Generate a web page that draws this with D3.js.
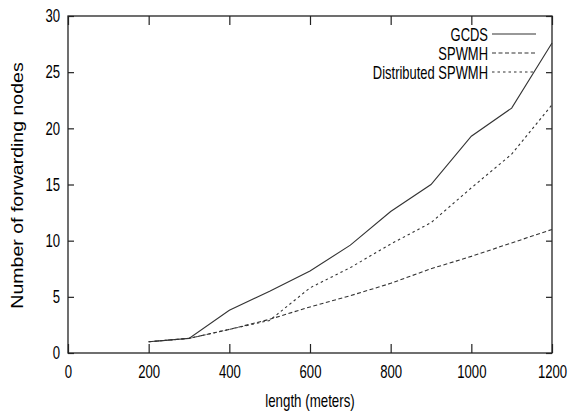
<!DOCTYPE html>
<html><head><meta charset="utf-8">
<script src="https://d3js.org/d3.v7.min.js"></script>
<style>body{margin:0;background:#fff}text{font-family:"Liberation Sans",Arial,sans-serif;fill:#000}</style>
</head><body>
<svg id="c" width="569" height="412"></svg>
<script>
const lengths = [200,300,400,500,600,700,800,900,1000,1100,1200];
const gcds = [1.0,1.3,3.8,5.5,7.3,9.6,12.6,15.0,19.3,21.8,27.6];
const spwmh = [1.0,1.3,2.1,3.0,4.1,5.1,6.2,7.5,8.6,9.8,11.0];
const distSpwmh = [1.0,1.3,2.1,2.9,5.8,7.6,9.7,11.6,14.7,17.7,22.1];
const seriesNames = ["GCDS","SPWMH","Distributed SPWMH"];
const xTicks = [0,200,400,600,800,1000,1200];
const yTicks = [0,5,10,15,20,25,30];

const svg = d3.select("#c");
const L=68,R=552,T=16,B=353;
const x = d3.scaleLinear().domain([0,1200]).range([L,R]);
const y = d3.scaleLinear().domain([0,30]).range([B,T]);
const fs = "18px";
const K = 0.73;

svg.append("rect").attr("x",L).attr("y",T).attr("width",R-L).attr("height",B-T)
  .attr("fill","none").attr("stroke","#222").attr("stroke-width",1.3);

const xa = svg.append("g").attr("transform",`translate(0,${B})`)
  .call(d3.axisBottom(x).tickValues(xTicks).tickSize(-9).tickFormat(d3.format("d")).tickPadding(12));
const xt = svg.append("g").attr("transform",`translate(0,${T})`)
  .call(d3.axisTop(x).tickValues(xTicks).tickSize(-9).tickFormat(""));
const ya = svg.append("g").attr("transform",`translate(${L},0)`)
  .call(d3.axisLeft(y).tickValues(yTicks).tickSize(-6).tickPadding(8));
const yr = svg.append("g").attr("transform",`translate(${R},0)`)
  .call(d3.axisRight(y).tickValues(yTicks).tickSize(-6).tickFormat(""));
[xa,xt,ya,yr].forEach(g=>{
  g.select(".domain").remove();
  g.selectAll(".tick line").attr("stroke","#222").attr("stroke-width",1.2);
  g.selectAll("text").style("font-size",fs).style("font-family",'"Liberation Sans",Arial,sans-serif').attr("fill","#000");
});
xa.selectAll(".tick text").attr("transform",`scale(${K},1)`);
ya.selectAll(".tick text").attr("x",-8/K).attr("transform",`scale(${K},1)`);

const data = [gcds,spwmh,distSpwmh];
const dashes = [null,"4,2.5","2.5,3"];
const line = d3.line().x((d,i)=>x(lengths[i])).y(d=>y(d));
data.forEach((s,k)=>{
  svg.append("path").datum(s).attr("d",line).attr("fill","none")
    .attr("stroke","#333").attr("stroke-width",1.1)
    .attr("stroke-dasharray",dashes[k]);
});

seriesNames.forEach((n,k)=>{
  const ly = 34 + k*19;
  svg.append("text").attr("transform",`translate(488,${ly+6.5}) scale(0.72,1)`).attr("text-anchor","end")
    .style("font-size",fs).text(n);
  svg.append("line").attr("x1",492).attr("x2",536).attr("y1",ly).attr("y2",ly)
    .attr("stroke","#333").attr("stroke-width",1.1).attr("stroke-dasharray",dashes[k]);
});

svg.append("text").attr("transform","translate(310,407) scale(0.74,1)").attr("text-anchor","middle")
  .style("font-size",fs).text("length (meters)");
svg.append("text").attr("transform","translate(23,185.5) rotate(-90) scale(1.15,1)").attr("text-anchor","middle")
  .style("font-size","17px").text("Number of forwarding nodes");
</script>
</body></html>
